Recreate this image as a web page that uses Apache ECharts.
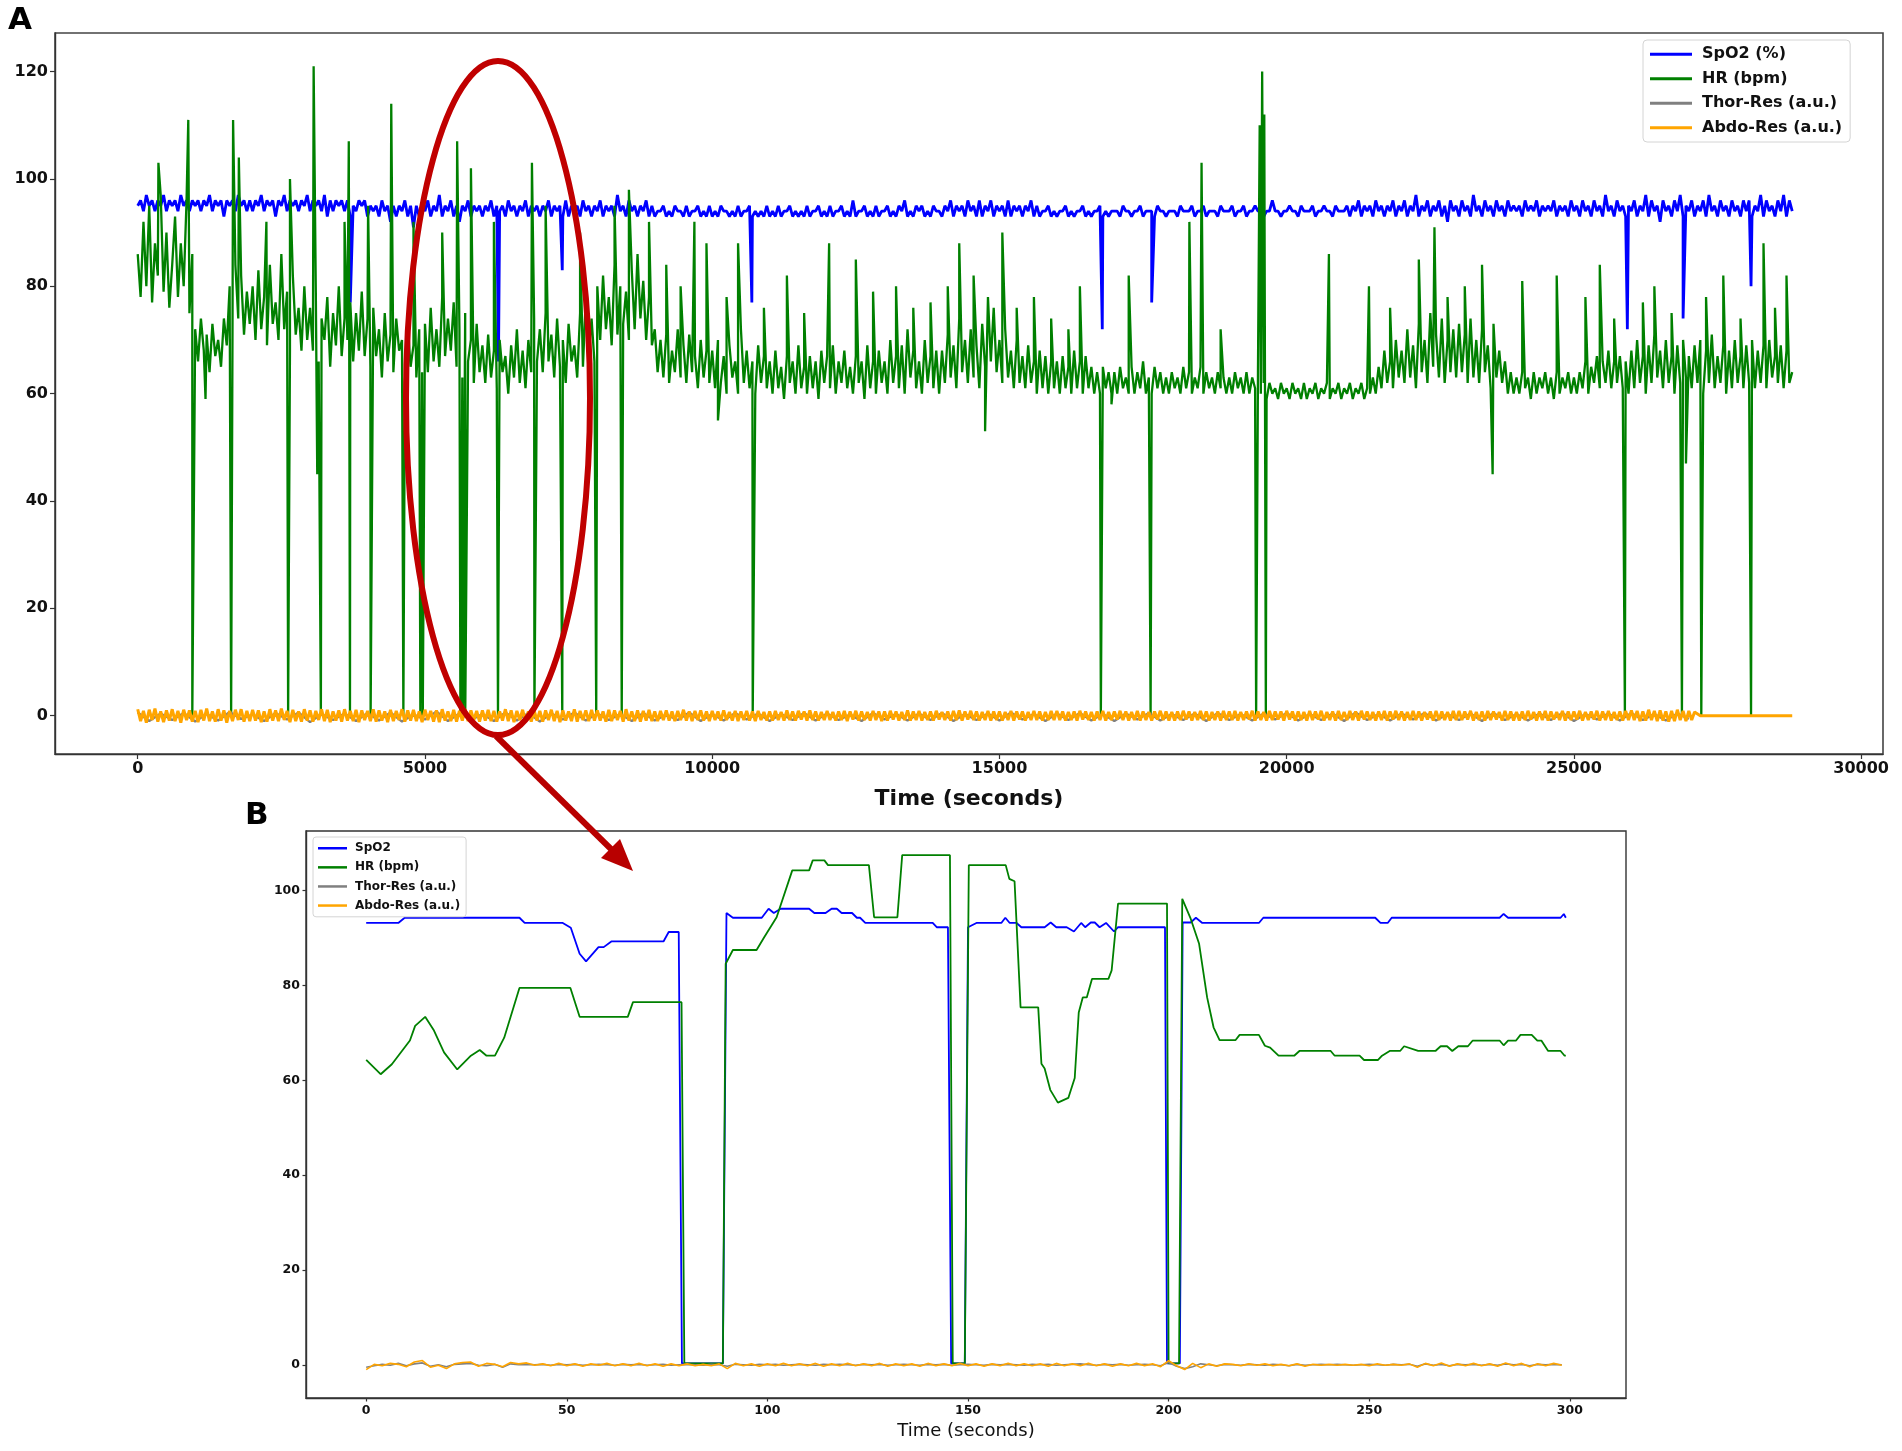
<!DOCTYPE html>
<html>
<head>
<meta charset="utf-8">
<title>SpO2 / HR / respiration</title>
<script src="https://cdn.jsdelivr.net/npm/echarts@6/dist/echarts.min.js"></script>
<style>
  html, body { margin: 0; padding: 0; background: #fff; }
  #chart { width: 1902px; height: 1451px; }
</style>
</head>
<body>
<div id="chart"></div>
<script>
// ---- panel A : whole night, one value every 50 s ----
var stepA = 50;
var hrA = [
  86, 78, 92, 80, 95, 77, 88, 82, 97, 79, 90, 76, 84, 93, 78, 88, 80, 96, 75, 86,
  72, 66, 74, 68, 71, 64, 73, 67, 70, 65, 74, 69, 80, 72, 84, 74, 82, 71, 79, 73,
  80, 70, 83, 72, 78, 69, 84, 73, 77, 70, 86, 72, 79, 68, 82, 71, 76, 68, 80, 70,
  76, 68, 79, 66, 74, 70, 78, 65, 75, 69, 80, 67, 74, 70, 77, 66, 75, 68, 79, 67,
  74, 65, 76, 67, 72, 63, 75, 66, 71, 64, 74, 68, 70, 62, 73, 65, 69, 63, 72, 64,
  73, 64, 76, 66, 72, 65, 78, 67, 74, 68, 77, 65, 72, 63, 75, 66, 70, 62, 73, 64,
  69, 62, 71, 63, 68, 61, 70, 64, 67, 60, 69, 63, 72, 62, 68, 61, 70, 64, 74, 66,
  72, 64, 75, 66, 71, 63, 74, 65, 70, 62, 73, 66, 69, 63, 75, 65, 78, 67, 74, 66,
  80, 70, 82, 72, 78, 69, 84, 71, 80, 73, 79, 70, 83, 72, 86, 74, 81, 70, 78, 69,
  72, 64, 70, 63, 71, 62, 68, 64, 72, 63, 69, 62, 71, 64, 67, 61, 70, 63, 68, 62,
  68, 61, 70, 62, 67, 60, 69, 63, 66, 60, 72, 62, 68, 61, 66, 60, 69, 62, 67, 61,
  66, 60, 68, 61, 65, 59, 67, 62, 66, 60, 69, 61, 65, 60, 67, 61, 66, 59, 68, 62,
  67, 61, 69, 60, 66, 62, 68, 61, 65, 60, 67, 62, 66, 59, 69, 61, 66, 60, 68, 62,
  66, 60, 70, 62, 67, 61, 69, 60, 72, 63, 68, 61, 66, 60, 70, 62, 67, 61, 68, 60,
  68, 62, 71, 63, 69, 61, 74, 64, 70, 62, 72, 63, 69, 61, 73, 65, 78, 66, 76, 64,
  70, 62, 72, 63, 68, 61, 70, 62, 67, 61, 69, 62, 66, 60, 68, 61, 67, 60, 66, 61,
  66, 60, 67, 61, 65, 60, 68, 61, 66, 60, 67, 61, 65, 60, 64, 60, 65, 61, 64, 60,
  64, 60, 65, 61, 63, 60, 65, 60, 64, 61, 66, 60, 63, 60, 65, 61, 64, 60, 63, 60,
  64, 61, 63, 60, 65, 61, 64, 60, 63, 61, 65, 60, 64, 61, 63, 60, 64, 61, 63, 60,
  63, 60, 64, 61, 63, 60, 64, 60, 63, 61, 64, 60, 62, 59, 62, 60, 61, 59, 62, 60,
  61, 59, 62, 60, 61, 59, 62, 59, 61, 60, 62, 59, 61, 60, 62, 59, 61, 60, 62, 59,
  61, 60, 62, 59, 61, 60, 62, 59, 61, 60, 63, 60, 65, 61, 68, 62, 66, 61, 70, 63,
  68, 62, 72, 63, 69, 61, 73, 64, 70, 62, 75, 65, 71, 63, 74, 62, 70, 64, 72, 63,
  73, 64, 71, 62, 74, 63, 70, 62, 72, 64, 69, 61, 73, 63, 68, 62, 66, 60, 64, 60,
  63, 60, 64, 61, 63, 59, 64, 60, 63, 61, 64, 60, 63, 59, 64, 60, 63, 61, 64, 60,
  63, 60, 64, 61, 66, 60, 65, 62, 67, 61, 66, 62, 68, 61, 66, 62, 67, 61, 66, 60,
  68, 61, 70, 62, 67, 60, 69, 62, 71, 63, 68, 61, 70, 62, 67, 60, 69, 62, 70, 63,
  67, 61, 69, 62, 70, 60, 68, 62, 71, 61, 67, 62, 69, 60, 68, 61, 70, 62, 67, 61,
  69, 62, 70, 61, 68, 62, 69, 61, 70, 63, 67, 62, 69, 61, 68, 62, 64
];
// isolated HR spikes and dips [time, bpm]
var hrSpikesA = [
  [360, 103], [880, 111], [1180, 59], [1660, 111], [1760, 104], [2240, 92], [2650, 100],
  [3062, 121], [3125, 45], [3600, 92], [3674, 107], [4010, 95], [4413, 114], [4800, 92],
  [5300, 90], [5560, 107], [5800, 102], [6200, 92], [6862, 103], [7100, 95], [7700, 90],
  [8300, 95], [8550, 98], [8900, 92], [9200, 84], [9450, 80], [9690, 92], [9900, 88],
  [10100, 55], [10250, 78], [10450, 88], [10900, 76], [11300, 82], [11600, 75], [12035, 88],
  [12500, 85], [12800, 79], [13200, 80], [13500, 76], [13800, 77], [14100, 80], [14300, 88],
  [14550, 82], [14750, 53], [15050, 90], [15300, 76], [15600, 78], [15900, 74], [16200, 72],
  [16400, 80], [16950, 58], [17250, 82], [18306, 92], [18518, 103], [18850, 72], [19530, 110],
  [19573, 120], [19610, 112], [20735, 86], [21432, 80], [21800, 76], [22300, 85], [22572, 91],
  [22800, 78], [23100, 80], [23400, 84], [23585, 45], [24100, 81], [24700, 82], [25200, 78],
  [25450, 84], [25700, 74], [26200, 77], [26400, 80], [26700, 75], [26950, 47], [27300, 78],
  [27600, 82], [27900, 74], [28300, 88], [28500, 76], [28700, 82]
];
// signal loss, HR reads 0 [time, bpm]
var hrDropsA = [
  [950, 0], [1626, 0], [2618, 0], [3188, 0], [3695, 0], [4054, 0], [4624, 0], [4920, 0],
  [4962, 0], [5617, 0], [5659, 0], [5701, 0], [6271, 0], [6905, 0], [7390, 0], [7981, 0],
  [8425, 0], [10705, 0], [16765, 0], [17631, 0], [19468, 0], [19637, 0], [25887, 0],
  [26880, 0], [27217, 0], [28083, 0]
];
var spo2A = [
  95, 96, 94, 97, 95, 96, 94, 96, 95, 97, 94, 96, 95, 96, 94, 97, 95, 96, 94, 96,
  95, 96, 94, 96, 95, 97, 94, 96, 95, 96, 93, 96, 95, 96, 94, 97, 95, 96, 94, 96,
  94, 96, 95, 97, 94, 96, 95, 96, 93, 96, 95, 97, 94, 96, 95, 96, 94, 96, 95, 97,
  94, 96, 95, 96, 94, 97, 93, 96, 94, 96, 95, 96, 94, 96, 93, 95, 94, 96, 95, 96,
  93, 95, 94, 95, 93, 96, 94, 95, 92, 95, 93, 95, 94, 96, 93, 95, 91, 95, 93, 95,
  94, 96, 93, 95, 94, 97, 93, 95, 94, 96, 93, 95, 92, 95, 94, 96, 93, 95, 94, 95,
  93, 95, 94, 96, 93, 95, 94, 95, 93, 96, 94, 95, 93, 95, 94, 96, 93, 95, 94, 95,
  93, 95, 94, 96, 93, 95, 94, 95, 93, 96, 93, 95, 94, 95, 93, 96, 94, 95, 93, 95,
  94, 96, 93, 95, 94, 95, 93, 97, 94, 95, 93, 96, 94, 95, 93, 95, 94, 96, 93, 95,
  93, 94, 94, 95, 93, 94, 93, 95, 94, 94, 93, 95, 93, 94, 94, 95, 93, 94, 93, 95,
  93, 94, 93, 95, 94, 94, 93, 94, 93, 95, 93, 94, 94, 95, 93, 94, 93, 94, 93, 95,
  93, 94, 93, 95, 93, 94, 94, 95, 93, 94, 93, 94, 93, 95, 93, 94, 94, 95, 93, 94,
  93, 95, 93, 94, 94, 95, 93, 94, 93, 96, 93, 94, 94, 95, 93, 94, 93, 95, 93, 94,
  94, 95, 93, 94, 93, 95, 94, 96, 93, 94, 93, 95, 94, 95, 93, 94, 93, 95, 94, 94,
  93, 95, 94, 96, 93, 95, 94, 95, 93, 96, 94, 95, 93, 96, 93, 95, 94, 96, 93, 95,
  94, 95, 93, 96, 93, 95, 94, 95, 93, 95, 94, 96, 93, 95, 93, 94, 94, 95, 93, 94,
  93, 94, 94, 95, 93, 94, 93, 94, 94, 95, 93, 94, 93, 94, 94, 95, 93, 94, 93, 94,
  94, 94, 93, 95, 94, 94, 93, 94, 94, 95, 93, 94, 94, 94, 93, 95, 94, 94, 93, 94,
  94, 94, 93, 95, 94, 94, 94, 95, 93, 94, 94, 95, 93, 94, 94, 94, 93, 95, 94, 94,
  94, 95, 93, 94, 94, 95, 93, 94, 94, 95, 94, 94, 93, 94, 94, 96, 94, 94, 93, 94,
  94, 95, 94, 94, 93, 95, 94, 94, 94, 95, 93, 94, 94, 95, 94, 94, 93, 95, 94, 94,
  94, 95, 93, 95, 94, 96, 93, 95, 94, 95, 93, 96, 94, 95, 93, 95, 94, 96, 93, 95,
  94, 96, 93, 95, 94, 97, 93, 95, 94, 96, 93, 95, 94, 96, 93, 95, 92, 96, 94, 95,
  93, 96, 94, 95, 93, 97, 94, 95, 93, 96, 94, 95, 93, 96, 94, 95, 93, 96, 94, 95,
  94, 95, 93, 96, 94, 95, 94, 96, 93, 95, 94, 95, 94, 96, 93, 95, 94, 95, 93, 96,
  94, 95, 93, 96, 94, 95, 93, 96, 94, 95, 93, 97, 94, 95, 93, 96, 94, 95, 93, 95,
  94, 96, 93, 95, 94, 97, 93, 96, 94, 95, 92, 96, 94, 95, 93, 96, 94, 97, 93, 95,
  94, 96, 93, 95, 94, 96, 93, 97, 94, 95, 93, 96, 94, 95, 93, 96, 94, 95, 93, 96,
  94, 96, 93, 95, 94, 97, 93, 96, 94, 95, 93, 96, 94, 97, 93, 96, 94
];
var spo2DipsA = [
  [3700, 77], [6280, 66], [7390, 83], [10690, 77], [16790, 72], [17650, 77],
  [19573, 98], [25930, 72], [26900, 74], [28083, 80]
];
var abdoA = [
  1.2, -1.0, 0.9, -1.3, 1.1, -0.8, 1.3, -1.1, 0.8, -1.2, 1.0, -0.9, 1.2, -1.0, 0.9, -1.3, 1.1, -0.8, 1.0, -1.1,
  0.9, -1.2, 1.1, -0.9, 1.3, -1.0, 0.8, -1.1, 1.2, -0.9, 1.0, -1.3, 0.9, -1.0, 1.1, -0.8, 1.2, -1.1, 0.9, -1.0,
  1.1, -0.9, 1.0, -1.2, 0.8, -1.1, 1.2, -0.9, 1.0, -1.0, 1.3, -0.8, 0.9, -1.2, 1.1, -1.0, 0.8, -1.1, 1.2, -0.9,
  1.0, -1.1, 0.9, -0.8, 1.2, -1.0, 1.1, -1.2, 0.8, -0.9, 1.0, -1.1, 1.2, -0.9, 0.9, -1.0, 1.1, -1.2, 1.0, -0.8,
  0.9, -1.0, 1.2, -1.1, 1.0, -0.9, 0.8, -1.2, 1.1, -1.0, 0.9, -0.8, 1.2, -1.1, 1.0, -0.9, 1.1, -1.0, 0.8, -1.2,
  1.1, -0.8, 0.9, -1.1, 1.0, -1.2, 1.2, -0.9, 0.8, -1.0, 1.1, -1.1, 0.9, -0.9, 1.2, -1.0, 1.0, -0.8, 0.9, -1.1,
  1.0, -0.9, 1.1, -1.0, 0.9, -1.1, 0.8, -0.9, 1.2, -1.0, 1.0, -1.2, 0.9, -0.8, 1.1, -1.0, 0.8, -1.1, 1.0, -0.9,
  0.9, -1.1, 1.0, -0.8, 1.1, -1.0, 0.9, -1.2, 1.0, -0.9, 0.8, -1.0, 1.2, -1.1, 0.9, -0.8, 1.0, -1.0, 1.1, -0.9,
  1.0, -0.9, 0.8, -1.1, 1.1, -1.0, 1.0, -0.8, 0.9, -1.1, 1.2, -0.9, 0.8, -1.0, 1.0, -1.1, 0.9, -0.9, 1.1, -1.0,
  0.8, -1.0, 0.9, -0.8, 1.0, -0.9, 0.8, -1.0, 0.9, -0.8, 1.1, -0.9, 0.8, -1.0, 0.9, -0.8, 1.0, -0.9, 0.8, -1.0,
  0.9, -0.8, 0.8, -0.9, 1.0, -0.8, 0.7, -0.9, 0.9, -1.0, 0.8, -0.8, 0.9, -0.9, 0.8, -1.0, 0.9, -0.8, 0.7, -0.9,
  0.8, -0.9, 0.9, -0.8, 0.7, -0.9, 1.0, -0.8, 0.8, -0.9, 0.9, -0.7, 0.8, -0.9, 1.0, -0.8, 0.8, -0.9, 0.7, -0.8,
  0.9, -0.8, 0.7, -0.9, 0.8, -0.8, 0.9, -1.0, 0.8, -0.7, 0.9, -0.9, 0.8, -0.8, 0.7, -0.9, 0.9, -0.8, 0.8, -1.0,
  0.8, -0.9, 0.9, -0.7, 0.8, -0.9, 0.7, -0.8, 1.0, -0.9, 0.8, -0.8, 0.9, -0.9, 0.7, -0.8, 0.8, -0.9, 0.9, -0.7,
  0.7, -0.8, 0.8, -0.9, 0.9, -0.8, 1.0, -0.9, 0.8, -0.7, 0.9, -0.8, 0.8, -0.9, 0.7, -0.8, 0.9, -0.9, 0.8, -0.8,
  0.8, -0.9, 0.7, -0.8, 0.9, -0.9, 0.8, -0.7, 0.8, -0.9, 0.7, -0.8, 0.9, -0.8, 0.8, -0.9, 0.7, -0.8, 0.9, -0.8,
  0.9, -0.8, 0.8, -0.9, 0.7, -0.8, 0.8, -0.9, 0.9, -0.7, 0.8, -0.8, 0.7, -0.9, 0.8, -0.8, 0.9, -0.9, 0.7, -0.8,
  0.8, -0.7, 0.9, -0.8, 0.8, -0.9, 0.7, -0.8, 0.9, -0.9, 0.8, -0.8, 0.7, -0.9, 0.8, -0.7, 0.9, -0.8, 0.8, -0.9,
  0.7, -0.9, 0.8, -0.8, 0.9, -0.7, 0.8, -0.9, 0.7, -0.8, 0.9, -0.8, 0.8, -0.9, 0.7, -0.8, 0.8, -0.9, 0.9, -0.8,
  0.8, -0.8, 0.9, -0.9, 0.7, -0.8, 0.8, -0.7, 0.9, -0.9, 0.8, -0.8, 0.7, -0.9, 0.9, -0.8, 0.8, -0.7, 0.8, -0.9,
  0.9, -0.7, 0.8, -0.9, 0.8, -0.8, 0.7, -0.9, 0.9, -0.8, 0.8, -0.7, 0.9, -0.9, 0.7, -0.8, 0.8, -0.9, 0.9, -0.8,
  0.7, -0.8, 0.9, -0.8, 0.8, -0.9, 0.9, -0.7, 0.8, -0.8, 0.7, -0.9, 0.8, -0.8, 0.9, -0.9, 0.8, -0.7, 0.9, -0.8,
  0.8, -0.9, 0.7, -0.8, 0.9, -0.8, 0.8, -0.9, 0.7, -0.7, 0.8, -0.9, 0.9, -0.8, 0.8, -0.8, 0.7, -0.9, 0.9, -0.8,
  0.9, -0.8, 0.8, -0.7, 0.9, -0.9, 0.7, -0.8, 0.8, -0.9, 0.9, -0.8, 0.8, -0.7, 0.7, -0.9, 0.9, -0.8, 0.8, -0.9,
  0.7, -0.9, 0.8, -0.8, 0.9, -0.7, 0.7, -0.9, 0.8, -0.8, 0.9, -0.9, 0.8, -0.7, 0.7, -0.8, 0.9, -0.9, 0.8, -0.8,
  0.8, -0.7, 0.9, -0.9, 0.7, -0.8, 0.8, -0.7, 0.9, -0.9, 0.8, -0.8, 0.9, -0.9, 0.7, -0.8, 0.8, -0.9, 0.9, -0.8,
  1.0, -0.8, 0.9, -1.0, 0.8, -0.9, 1.1, -0.8, 0.9, -1.0, 1.0, -0.9, 0.8, -1.1, 0.9, -1.0, 1.1, -0.8, 0.9, -1.0,
  0.9, -0.8, 0.7
];
var abdoTailA = [[27200, 0], [28800, 0]];
var stepThorA = 200;
var thorA = [
  0.6, -1.0, 0.4, -0.8, 0.5, -1.1, 0.3, -0.9, 0.7, -0.6,
  0.2, -1.0, 0.5, -0.7, 0.6, -1.2, 0.3, -0.8, 0.4, -1.0,
  0.5, -0.9, 0.6, -1.1, 0.2, -0.7, 0.8, -1.0, 0.4, -0.8,
  0.3, -1.0, 0.6, -0.9, 0.5, -1.1, 0.4, -0.7, 0.6, -0.9,
  0.4, -0.8, 0.3, -1.0, 0.5, -0.9, 0.2, -0.8, 0.6, -1.0,
  0.3, -0.9, 0.5, -0.7, 0.4, -1.0, 0.3, -0.8, 0.5, -0.9,
  0.4, -0.8, 0.2, -1.0, 0.5, -0.7, 0.3, -0.9, 0.4, -0.8,
  0.5, -1.0, 0.3, -0.8, 0.4, -0.9, 0.6, -0.7, 0.3, -1.0,
  0.4, -0.8, 0.5, -0.9, 0.3, -1.0, 0.4, -0.7, 0.5, -0.9,
  0.3, -0.8, 0.4, -1.0, 0.5, -0.8, 0.3, -0.9, 0.4, -0.7,
  0.5, -0.9, 0.3, -0.8, 0.4, -1.0, 0.6, -0.8, 0.3, -0.9,
  0.4, -0.7, 0.5, -0.9, 0.3, -0.8, 0.4, -1.0, 0.5, -0.8,
  0.3, -0.9, 0.4, -0.8, 0.5, -1.0, 0.3, -0.7, 0.4, -0.9,
  0.5, -0.8, 0.3, -0.9, 0.4, -0.6
];
var ticksAX = [0, 5000, 10000, 15000, 20000, 25000, 30000];
var ticksAY = [0, 20, 40, 60, 80, 100, 120];

// ---- panel B : 300 s zoom ----
var spo2B = [
  [0, 93.2], [8, 93.2], [9.6, 94.3], [38.2, 94.3], [39.5, 93.2], [49, 93.2], [51, 92.2],
  [53.2, 86.7], [54.8, 85.1], [57.9, 88.1], [59.2, 88.1], [61.1, 89.3], [74.1, 89.3],
  [75.4, 91.3], [77.9, 91.3], [78.7, 0.3], [88.9, 0.3], [89.8, 95.3], [91.4, 94.3],
  [98.6, 94.3], [100.3, 96.2], [101.6, 95.3], [103.3, 96.2], [110.4, 96.2], [111.7, 95.3],
  [114.5, 95.3], [116, 96.2], [117.3, 96.2], [118.5, 95.3], [121.1, 95.3], [122.3, 94.3],
  [123.1, 94.3], [124.4, 93.2], [141.2, 93.2], [142.2, 92.3], [145, 92.3], [145.8, 0.3],
  [149.2, 0.3], [150, 92.3], [150.4, 92.3], [152.1, 93.2], [158.3, 93.2], [159.3, 94.3],
  [160.4, 93.2], [162.1, 93.2], [163.3, 92.3], [169.1, 92.3], [170.6, 93.3], [172, 92.3],
  [174.6, 92.3], [176.4, 91.4], [178.2, 93.2], [179.2, 92.3], [180.6, 93.3], [181.6, 93.3],
  [182.8, 92.3], [184.4, 93.2], [186.4, 91.4], [187.4, 92.3], [199.1, 92.3], [199.6, 0.3],
  [202.8, 0.3], [203.5, 93.3], [205.5, 93.3], [206.8, 94.3], [208.4, 93.2], [222.5, 93.2],
  [223.6, 94.3], [251.5, 94.3], [252.8, 93.2], [254.6, 93.2], [255.6, 94.3], [282.5, 94.3],
  [283.5, 95.1], [284.6, 94.3], [297.7, 94.3], [298.5, 95.1], [299, 94.3]
];
var hrB = [
  [0, 64.3], [3.6, 61.3], [6.4, 63.4], [10.9, 68.4], [12.2, 71.5], [14.7, 73.4], [16.9, 70.5],
  [19.4, 65.9], [22.7, 62.3], [26.1, 65.2], [28.3, 66.4], [30, 65.2], [32.1, 65.2], [34.4, 69],
  [38.2, 79.5], [50.9, 79.5], [53.2, 73.4], [65.2, 73.4], [66.5, 76.5], [78.6, 76.5],
  [79.3, 0.3], [88.9, 0.3], [89.6, 84.6], [91.4, 87.5], [97.3, 87.5], [99.2, 90.2],
  [102.3, 94.4], [106.2, 104.3], [110.4, 104.3], [111.3, 106.4], [114.2, 106.4], [115.1, 105.4],
  [125.3, 105.4], [126.6, 94.4], [132.4, 94.4], [133.6, 107.5], [145.5, 107.5], [146.2, 0.3],
  [149.2, 0.3], [150.2, 105.4], [159.4, 105.4], [160.3, 102.5], [161.6, 102], [163.1, 75.4],
  [167.5, 75.4], [168.3, 63.5], [169.1, 62.5], [170.5, 58], [172.4, 55.3], [175, 56.3],
  [176.6, 60.5], [177.6, 74.3], [178.6, 77.5], [179.6, 77.5], [180.9, 81.4], [185, 81.4],
  [185.8, 83.2], [187.4, 97.3], [199.6, 97.3], [200, 0.3], [202.6, 0.3], [203.4, 98.3],
  [205.5, 94.1], [207.6, 88.8], [209.6, 77.5], [211.2, 71.2], [212.7, 68.5], [216.7, 68.5],
  [217.7, 69.6], [222.5, 69.6], [224, 67.3], [225.3, 66.9], [227.4, 65.2], [231.3, 65.2],
  [232.6, 66.2], [240.4, 66.2], [241.4, 65.2], [247.6, 65.2], [248.7, 64.3], [252.2, 64.3],
  [253.2, 65.2], [255.1, 66.2], [257.7, 66.2], [258.7, 67.2], [262.2, 66.2], [266.5, 66.2],
  [267.8, 67.2], [269.4, 67.2], [270.7, 66.2], [272.2, 67.2], [274.6, 67.2], [275.8, 68.4],
  [282.5, 68.4], [283.5, 67.4], [284.6, 68.4], [286.6, 68.4], [287.7, 69.6], [290.5, 69.6],
  [291.9, 68.4], [292.9, 68.4], [294.6, 66.2], [297.7, 66.2], [298.7, 65.2], [299, 65.2]
];
var stepB = 2;
var abdoB = [
  -1.0, 0.1, -0.2, 0.3, 0.1, -0.4, 0.6, 0.9, -0.5, -0.1, -0.8, 0.2, 0.5, 0.6, -0.3, 0.3, 0.1, -0.4, 0.5, 0.2,
  0.4, -0.1, 0.2, -0.2, 0.3, -0.2, 0.2, -0.3, 0.2, -0.1, 0.3, -0.2, 0.2, -0.2, 0.3, -0.2, 0.2, -0.3, 0.2, -0.2,
  0.2, -0.2, 0.1, -0.2, 0.2, -0.8, 0.3, -0.2, 0.2, -0.3, 0.2, -0.2, 0.3, -0.2, 0.2, -0.2, 0.3, -0.3, 0.2, -0.2,
  0.3, -0.2, 0.2, -0.2, 0.3, -0.3, 0.2, -0.2, 0.2, -0.3, 0.3, -0.2, 0.2, -0.2, 0.3, -0.2, 0.2, -0.3, 0.2, -0.2,
  0.3, -0.2, 0.2, -0.2, 0.2, -0.3, 0.3, -0.2, 0.2, -0.2, 0.3, -0.2, 0.2, -0.3, 0.2, -0.2, 0.3, -0.2, 0.2, -0.4,
  0.9, -0.2, -1.0, 0.3, -0.6, 0.2, -0.3, 0.2, 0.1, -0.2, 0.2, -0.1, 0.2, -0.2, 0.1, -0.2, 0.2, -0.3, 0.1, -0.1,
  0.1, -0.1, 0.1, -0.1, 0.1, -0.2, 0.2, -0.1, 0.1, -0.1, 0.2, -0.5, 0.3, -0.2, 0.4, -0.3, 0.2, -0.2, 0.3, -0.2,
  0.2, -0.3, 0.4, -0.2, 0.3, -0.4, 0.2, -0.2, 0.3, -0.1
];
var thorB = [
  -0.5, -0.2, 0.1, -0.1, 0.3, -0.2, 0.2, 0.4, -0.3, 0.0, -0.4, 0.1, 0.2, 0.3, -0.1, -0.2, 0.1, -0.5, 0.2, 0.0,
  0.1, 0.0, 0.1, -0.1, 0.1, 0.0, 0.1, -0.1, 0.0, 0.1, 0.0, -0.1, 0.1, 0.0, 0.1, -0.1, 0.0, 0.1, -0.1, 0.0,
  0.1, 0.0, -0.1, 0.1, 0.0, -0.3, 0.1, 0.0, -0.1, 0.1, 0.0, 0.1, -0.1, 0.0, 0.1, 0.0, -0.1, 0.1, 0.0, 0.1,
  0.0, -0.1, 0.1, 0.0, 0.1, -0.1, 0.0, 0.1, 0.0, -0.1, 0.1, 0.0, 0.1, -0.1, 0.0, 0.1, 0.0, -0.1, 0.1, 0.0,
  0.1, 0.0, -0.1, 0.1, 0.0, 0.1, -0.1, 0.0, 0.1, 0.2, 0.0, -0.1, 0.1, 0.0, 0.1, -0.1, 0.0, 0.1, 0.0, -0.2,
  0.5, -0.3, -0.8, -0.4, 0.2, 0.0, -0.2, 0.1, 0.0, -0.1, 0.1, 0.0, -0.1, 0.1, 0.0, -0.2, 0.1, -0.1, 0.0, 0.1,
  0.0, 0.1, 0.0, -0.1, 0.0, 0.1, 0.0, -0.1, 0.1, 0.0, 0.1, -0.3, 0.2, -0.1, 0.1, -0.2, 0.1, 0.0, 0.1, -0.1,
  0.1, -0.1, 0.2, 0.0, 0.1, -0.2, 0.1, 0.0, 0.1, 0.0
];
var ticksBX = [0, 50, 100, 150, 200, 250, 300];
var ticksBY = [0, 20, 40, 60, 80, 100];

var namesA = ['SpO2 (%)', 'HR (bpm)', 'Thor-Res (a.u.)', 'Abdo-Res (a.u.)'];
var namesB = ['SpO2', 'HR (bpm)', 'Thor-Res (a.u.)', 'Abdo-Res (a.u.)'];

function stepped(values, step) {
  return values.map(function (v, i) { return [i * step, v]; });
}
function merged(base, extra) {
  return base.concat(extra).sort(function (a, b) { return a[0] - b[0]; });
}

var myChart = echarts.init(document.getElementById('chart'));

function valueAxis(gridIndex, min, max, ticks, fontSize, tickLen, margin) {
  return {
    type: 'value', gridIndex: gridIndex, min: min, max: max,
    splitLine: { show: false },
    axisLine: { show: true, onZero: false, lineStyle: { color: '#333', width: 1.4 } },
    axisTick: { show: true, length: tickLen, customValues: ticks, lineStyle: { color: '#333', width: 1.2 } },
    axisLabel: {
      customValues: ticks, margin: margin, color: '#111',
      fontFamily: 'DejaVu Sans', fontWeight: 'bold', fontSize: fontSize,
      formatter: function (v) { return String(v); }
    }
  };
}

var xA = valueAxis(0, -1440, 30380, ticksAX, 16, 5, 7);
xA.name = 'Time (seconds)';
xA.nameLocation = 'middle';
xA.nameGap = 34;
xA.nameTextStyle = { fontFamily: 'DejaVu Sans', fontWeight: 'bold', fontSize: 22, color: '#111' };
var yA = valueAxis(0, -7.14, 127.19, ticksAY, 16, 5, 7);
var xB = valueAxis(1, -15, 314, ticksBX, 12.5, 3.5, 6);
xB.name = 'Time (seconds)';
xB.nameLocation = 'middle';
xB.nameGap = 24;
xB.nameTextStyle = { fontFamily: 'DejaVu Sans', fontSize: 18, color: '#111' };
var yB = valueAxis(1, -7, 112.6, ticksBY, 12.5, 3.5, 6);

function line(name, data, color, width, axis) {
  return {
    name: name, type: 'line', data: data,
    xAxisIndex: axis, yAxisIndex: axis,
    showSymbol: false, symbol: 'none', sampling: null,
    lineStyle: { color: color, width: width },
    itemStyle: { color: color },
    silent: true, animation: false
  };
}

var arrowStart = [496, 736], arrowTip = [633, 871];

myChart.setOption({
  animation: false,
  textStyle: { fontFamily: 'DejaVu Sans' },
  grid: [
    { left: 55, top: 33, width: 1828, height: 721, show: true, borderColor: '#444', borderWidth: 1.6, backgroundColor: 'transparent' },
    { left: 306, top: 831, width: 1320, height: 567, show: true, borderColor: '#333', borderWidth: 1.4, backgroundColor: 'transparent' }
  ],
  xAxis: [xA, xB],
  yAxis: [yA, yB],
  legend: [
    {
      data: namesA, orient: 'vertical', left: 1643, top: 40,
      icon: 'rect', itemWidth: 42, itemHeight: 3, itemGap: 8,
      padding: [6, 8, 6, 7],
      backgroundColor: '#fff', borderColor: '#d4d4d4', borderWidth: 1, borderRadius: 4,
      textStyle: { fontFamily: 'DejaVu Sans', fontWeight: 'bold', fontSize: 16, lineHeight: 16.5, color: '#111', padding: [0, 0, 0, 5] }
    },
    {
      data: namesB, orient: 'vertical', left: 313, top: 837,
      icon: 'rect', itemWidth: 29, itemHeight: 2.5, itemGap: 6.6,
      padding: [5, 6, 5, 5],
      backgroundColor: '#fff', borderColor: '#d4d4d4', borderWidth: 1, borderRadius: 3,
      textStyle: { fontFamily: 'DejaVu Sans', fontWeight: 'bold', fontSize: 12, lineHeight: 12.5, color: '#111', padding: [0, 0, 0, 3] }
    }
  ],
  series: [
    line('SpO2 (%)', merged(stepped(spo2A, stepA), spo2DipsA), '#0000ff', 2.8, 0),
    line('HR (bpm)', merged(merged(stepped(hrA, stepA), hrSpikesA), hrDropsA), '#008000', 2.3, 0),
    line('Thor-Res (a.u.)', stepped(thorA, stepThorA), '#808080', 2.4, 0),
    line('Abdo-Res (a.u.)', stepped(abdoA, stepA).concat(abdoTailA), '#ffa500', 3, 0),
    line('SpO2', spo2B, '#0000ff', 1.8, 1),
    line('HR (bpm)', hrB, '#008000', 1.8, 1),
    line('Thor-Res (a.u.)', stepped(thorB, stepB), '#808080', 1.6, 1),
    line('Abdo-Res (a.u.)', stepped(abdoB, stepB), '#ffa500', 1.6, 1)
  ],
  graphic: [
    { type: 'text', left: 8, top: 5, z: 100, style: { text: 'A', fontFamily: 'DejaVu Sans', fontWeight: 'bold', fontSize: 31, fill: '#000' } },
    { type: 'text', left: 245, top: 800, z: 100, style: { text: 'B', fontFamily: 'DejaVu Sans', fontWeight: 'bold', fontSize: 31, fill: '#000' } },
    { type: 'ellipse', z: 100, shape: { cx: 498, cy: 398, rx: 92, ry: 337 }, style: { fill: null, stroke: '#c00000', lineWidth: 6 } },
    { type: 'line', z: 100, shape: { x1: arrowStart[0], y1: arrowStart[1], x2: 612, y2: 850 }, style: { stroke: '#b80000', lineWidth: 6 } },
    { type: 'polygon', z: 100, shape: { points: [arrowTip, [601, 858], [620, 839]] }, style: { fill: '#b80000' } }
  ]
});

window.addEventListener('resize', function () {
  myChart.resize();
});
</script>
</body>
</html>
